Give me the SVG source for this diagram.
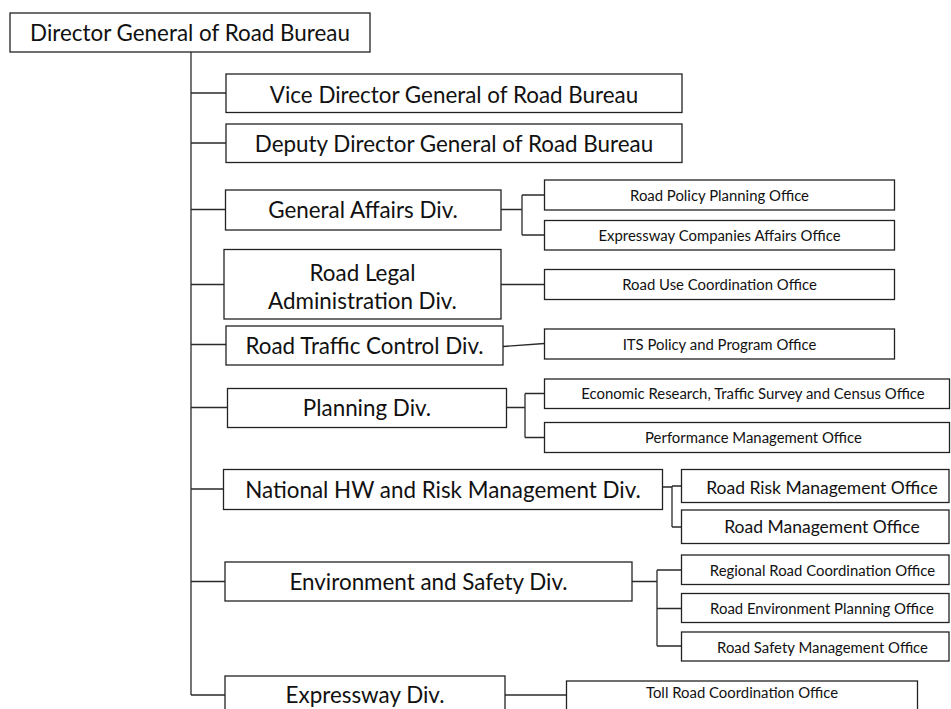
<svg xmlns="http://www.w3.org/2000/svg" width="951" height="709" viewBox="0 0 951 709">
  <style>
    .box { fill: #ffffff; stroke: #222222; stroke-width: 1.3; }
    .wire { fill: none; stroke: #2a2a2a; stroke-width: 1.3; }
    text { font-family: Lato, "Open Sans", "Liberation Sans", sans-serif; fill: #111111; text-anchor: middle; }
    .lg { font-size: 22.4px; }
    .md { font-size: 17.5px; }
    .sm { font-size: 14.9px; }
  </style>
  <rect width="951" height="709" fill="#ffffff"/>

  <!-- connectors -->
  <g id="connectors">
    <!-- trunk from the Director General -->
    <path class="wire" d="M191,52 V695"/>
    <path class="wire" d="M191,93 H226 M191,143 H226 M191,209.5 H225.5 M191,284.5 H224 M191,344.5 H226 M191,407.5 H227.5 M191,489 H223.5 M191,581.5 H225 M191,695 H225"/>
    <!-- General Affairs offices -->
    <path class="wire" d="M501,209.5 H522 M522,195 V235 M522,195 H544.5 M522,235 H544.5"/>
    <!-- Road Legal Administration office -->
    <path class="wire" d="M501,284.5 H544.5"/>
    <!-- Road Traffic Control office -->
    <path class="wire" d="M503,346.5 L544.5,343.5"/>
    <!-- Planning offices -->
    <path class="wire" d="M507,407.5 H525 M525,393.5 V437.5 M525,393.5 H544.5 M525,437.5 H544.5"/>
    <!-- National HW and Risk Management offices -->
    <path class="wire" d="M662.5,487 H672 M672,486 V527 M672,486 H681.5 M672,527 H681.5"/>
    <!-- Environment and Safety offices -->
    <path class="wire" d="M632,581.5 H657 M657,570 V646 M657,570 H681.5 M657,608.5 H681.5 M657,646 H681.5"/>
    <!-- Expressway office -->
    <path class="wire" d="M505,695 H566.5"/>
  </g>

  <g id="director-general">
    <rect class="box" x="10" y="13" width="360" height="39"/>
    <text class="lg" x="190" y="40.5">Director General of Road Bureau</text>
  </g>
  <g id="vice-director">
    <rect class="box" x="226" y="74" width="456" height="38.5"/>
    <text class="lg" x="454" y="102.5">Vice Director General of Road Bureau</text>
  </g>
  <g id="deputy-director">
    <rect class="box" x="226" y="124" width="456" height="38.5"/>
    <text class="lg" x="454" y="152">Deputy Director General of Road Bureau</text>
  </g>

  <g id="general-affairs">
    <rect class="box" x="225.5" y="190" width="275.5" height="40"/>
    <text class="lg" x="363" y="217.5">General Affairs Div.</text>
  </g>
  <g id="road-policy-planning">
    <rect class="box" x="544.5" y="180" width="350" height="30"/>
    <text class="sm" x="719.5" y="201">Road Policy Planning Office</text>
  </g>
  <g id="expressway-companies">
    <rect class="box" x="544.5" y="220.5" width="350" height="29.5"/>
    <text class="sm" x="719.5" y="240.5">Expressway Companies Affairs Office</text>
  </g>

  <g id="road-legal">
    <rect class="box" x="224" y="249.5" width="277" height="69.5"/>
    <text class="lg" x="362.5" y="281">Road Legal</text>
    <text class="lg" x="362.5" y="309">Administration Div.</text>
  </g>
  <g id="road-use">
    <rect class="box" x="544.5" y="269.5" width="350" height="30"/>
    <text class="sm" x="719.5" y="290">Road Use Coordination Office</text>
  </g>

  <g id="road-traffic">
    <rect class="box" x="226" y="326" width="277" height="39"/>
    <text class="lg" x="364.5" y="354">Road Traffic Control Div.</text>
  </g>
  <g id="its-policy">
    <rect class="box" x="544.5" y="329" width="350" height="30"/>
    <text class="sm" x="719.5" y="349.5">ITS Policy and Program Office</text>
  </g>

  <g id="planning">
    <rect class="box" x="227.5" y="388.5" width="279" height="39"/>
    <text class="lg" x="367" y="416">Planning Div.</text>
  </g>
  <g id="economic-research">
    <rect class="box" x="544.5" y="379" width="405" height="29.5"/>
    <text class="sm" x="753" y="399">Economic Research, Traffic Survey and Census Office</text>
  </g>
  <g id="performance-management">
    <rect class="box" x="544.5" y="422.5" width="405" height="30"/>
    <text class="sm" x="753.5" y="442.5">Performance Management Office</text>
  </g>

  <g id="national-hw">
    <rect class="box" x="223.5" y="469.5" width="439" height="40"/>
    <text class="lg" x="443" y="497.5">National HW and Risk Management Div.</text>
  </g>
  <g id="road-risk">
    <rect class="box" x="681.5" y="469.5" width="267.5" height="33"/>
    <text class="md" x="822" y="493.5">Road Risk Management Office</text>
  </g>
  <g id="road-management">
    <rect class="box" x="681.5" y="510" width="267.5" height="33.5"/>
    <text class="md" x="822" y="533">Road Management Office</text>
  </g>

  <g id="environment-safety">
    <rect class="box" x="225" y="562" width="407" height="39"/>
    <text class="lg" x="428.5" y="590">Environment and Safety Div.</text>
  </g>
  <g id="regional-road">
    <rect class="box" x="681.5" y="555" width="267.5" height="29.5"/>
    <text class="sm" x="822.5" y="575.5">Regional Road Coordination Office</text>
  </g>
  <g id="road-environment">
    <rect class="box" x="681.5" y="593.5" width="267.5" height="29"/>
    <text class="sm" x="822" y="613.5">Road Environment Planning Office</text>
  </g>
  <g id="road-safety">
    <rect class="box" x="681.5" y="632" width="267.5" height="29"/>
    <text class="sm" x="822.5" y="652.5">Road Safety Management Office</text>
  </g>

  <g id="expressway">
    <rect class="box" x="225" y="676" width="280" height="45"/>
    <text class="lg" x="365" y="703">Expressway Div.</text>
  </g>
  <g id="toll-road">
    <rect class="box" x="566.5" y="681" width="351" height="45"/>
    <text class="sm" x="742" y="698">Toll Road Coordination Office</text>
  </g>
</svg>
